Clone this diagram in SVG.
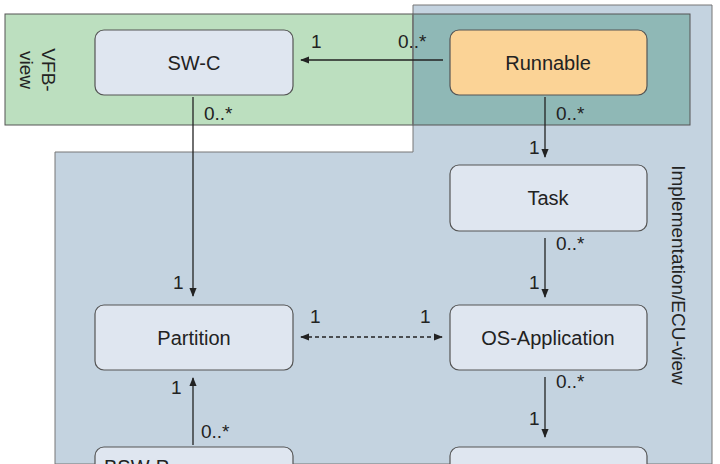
<svg xmlns="http://www.w3.org/2000/svg" width="720" height="464" viewBox="0 0 720 464">
<defs>
<marker id="ah" viewBox="0 0 10 10" refX="9" refY="5" markerWidth="7" markerHeight="7" orient="auto-start-reverse"><path d="M0,1 L10,5 L0,9 z" fill="#222"/></marker>
<style>
text{font-family:"Liberation Sans",Arial,sans-serif;fill:#222}
.n{fill:#dfe6f0;stroke:#555;stroke-width:1.2}
.t{font-size:20px;text-anchor:middle}
.l{font-size:19px}
.c{stroke:#222;stroke-width:1.3;fill:none}
</style>
</defs>
<rect width="720" height="464" fill="#fff"/>
<g id="regions">
<rect x="5" y="14" width="685" height="111" fill="#bcdfbf" stroke="#555"/>
<path d="M413,5 H712 V464 H55 V152 H413 Z" fill="#c4d3e0" stroke="#777"/>
<rect x="413" y="14" width="277" height="111" fill="#8fb8b6" stroke="#555"/>
<path d="M413,14 V125" stroke="#777" fill="none"/>
<text class="l" transform="translate(42,70) rotate(90)" text-anchor="middle">VFB-</text>
<text class="l" transform="translate(20,70) rotate(90)" text-anchor="middle">view</text>
<text class="l" transform="translate(672,275) rotate(90)" text-anchor="middle">Implementation/ECU-view</text>
</g>
<g id="swc"><rect class="n" x="95" y="30" width="198" height="65" rx="9"/><text class="t" x="194" y="70">SW-C</text></g>
<g id="runnable"><rect x="450" y="30" width="197" height="65" rx="9" fill="#fbd396" stroke="#555" stroke-width="1.2"/><text class="t" x="548" y="70">Runnable</text></g>
<g id="task"><rect class="n" x="450" y="165" width="197" height="66" rx="9"/><text class="t" x="548" y="205">Task</text></g>
<g id="partition"><rect class="n" x="95" y="305" width="198" height="65" rx="9"/><text class="t" x="194" y="345">Partition</text></g>
<g id="osapp"><rect class="n" x="450" y="305" width="197" height="65" rx="9"/><text class="t" x="548" y="345">OS-Application</text></g>
<g id="bsw"><rect class="n" x="95" y="447" width="198" height="40" rx="9"/><text x="104" y="474" style="font-size:20px">BSW-P</text></g>
<g id="bottomright"><rect class="n" x="450" y="447" width="197" height="40" rx="9"/></g>
<g id="connectors">
<path class="c" d="M443,60 H301" marker-end="url(#ah)"/>
<path class="c" d="M193,97 V296" marker-end="url(#ah)"/>
<path class="c" d="M545,97 V157" marker-end="url(#ah)"/>
<path class="c" d="M545,238 V297" marker-end="url(#ah)"/>
<path class="c" d="M301,337 H442" stroke-dasharray="4,3" marker-start="url(#ah)" marker-end="url(#ah)"/>
<path class="c" d="M193,445 V378" marker-end="url(#ah)"/>
<path class="c" d="M545,377 V437" marker-end="url(#ah)"/>
<text class="l" x="311" y="48">1</text><text class="l" x="398" y="48">0..*</text>
<text class="l" x="204" y="120">0..*</text><text class="l" x="173" y="289">1</text>
<text class="l" x="556" y="120">0..*</text><text class="l" x="529" y="154">1</text>
<text class="l" x="556" y="250">0..*</text><text class="l" x="529" y="289">1</text>
<text class="l" x="310" y="323">1</text><text class="l" x="420" y="323">1</text>
<text class="l" x="171" y="394">1</text><text class="l" x="201" y="438">0..*</text>
<text class="l" x="556" y="388">0..*</text><text class="l" x="529" y="425">1</text>
</g>
</svg>
